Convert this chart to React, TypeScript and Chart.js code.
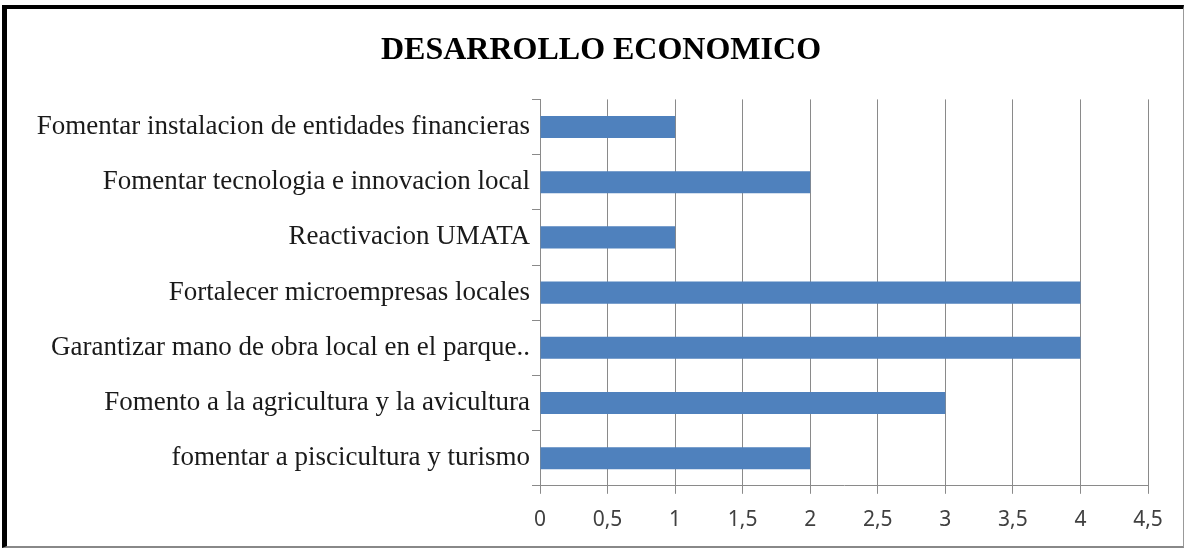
import React, { useEffect, useRef } from "react";
import { Chart, registerables } from "chart.js";

Chart.register(...registerables);

const TITLE = "DESARROLLO ECONOMICO";
const CATEGORIES = [
  "Fomentar instalacion de entidades financieras",
  "Fomentar tecnologia e innovacion local",
  "Reactivacion UMATA",
  "Fortalecer microempresas locales",
  "Garantizar mano de obra local en el parque..",
  "Fomento a la agricultura y la avicultura",
  "fomentar a piscicultura y turismo",
];
const VALUES = [1, 2, 1, 4, 4, 3, 2];
const X_MIN = 0;
const X_MAX = 4.5;
const X_STEP = 0.5;

const shiftTitle = {
  id: "shiftTitle",
  afterLayout(chart: any) {
    const t = chart.titleBlock;
    if (t) {
      t.left = 54;
    }
  },
};

export default function App() {
  const ref = useRef<HTMLCanvasElement | null>(null);

  useEffect(() => {
    document.body.style.margin = "0";
    const canvas = ref.current;
    if (!canvas) return;
    const chart = new Chart(canvas, {
      type: "bar",
      data: {
        labels: CATEGORIES,
        datasets: [
          {
            data: VALUES,
            backgroundColor: "#4F81BD",
            borderWidth: 0,
            barPercentage: 0.8,
            categoryPercentage: 0.5,
          },
        ],
      },
      plugins: [shiftTitle],
      options: {
        indexAxis: "y",
        animation: false,
        responsive: false,
        maintainAspectRatio: false,
        devicePixelRatio: 1,
        layout: { padding: { top: 5, right: 40, bottom: 4, left: 0 } },
        plugins: {
          legend: { display: false },
          tooltip: { enabled: false },
          title: {
            display: true,
            text: TITLE,
            color: "#000",
            font: { family: "Liberation Serif", size: 32, weight: "bold" },
            padding: { top: 27, bottom: 29 },
          },
        },
        scales: {
          x: {
            type: "linear",
            min: X_MIN,
            max: X_MAX,
            ticks: {
              stepSize: X_STEP,
              color: "#404040",
              font: { family: "Noto Sans", size: 21 },
              padding: 14,
              callback: (v: any) => String(v).replace(".", ","),
            },
            grid: {
              color: "#8a8a8a",
              lineWidth: 1,
              tickLength: 8,
              drawTicks: true,
            },
            border: { color: "#8a8a8a", width: 1 },
          },
          y: {
            afterFit: (scale: any) => {
              scale.width = 540;
            },
            ticks: {
              color: "#1a1a1a",
              font: { family: "Liberation Serif", size: 27 },
              padding: 2,
            },
            grid: {
              drawOnChartArea: false,
              color: "#8a8a8a",
              tickLength: 8,
              offset: true,
            },
            border: { color: "#8a8a8a", width: 1 },
          },
        },
      },
    });
    return () => chart.destroy();
  }, []);

  return (
    <div style={{ position: "fixed", left: 0, top: 0, width: 1188, height: 551, background: "#fff" }}>
      <div
        style={{
          position: "absolute",
          left: 2,
          top: 5,
          width: 1176,
          height: 537,
          borderLeft: "5px solid #000",
          borderTop: "4px solid #000",
          borderRight: "1px solid #999",
          borderBottom: "2px solid #888",
        }}
      />
      <canvas ref={ref} width={1188} height={551} style={{ position: "absolute", left: 0, top: 0, width: 1188, height: 551 }} />
    </div>
  );
}
